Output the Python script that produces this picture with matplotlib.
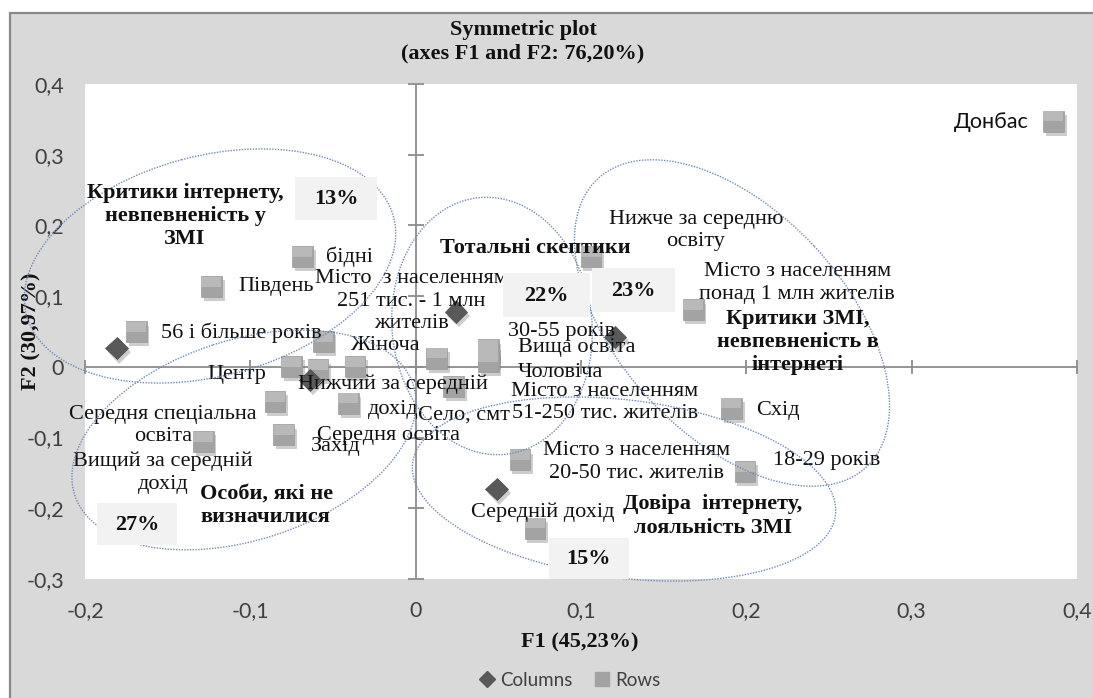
import matplotlib
matplotlib.use("Agg")
import matplotlib.pyplot as plt
from matplotlib.patches import Ellipse, Rectangle
from matplotlib.lines import Line2D
import matplotlib.patheffects as pe

SERIF = ["Liberation Serif", "DejaVu Serif"]
SANS = ["Lato", "Open Sans", "DejaVu Sans"]
plt.rcParams["font.family"] = SANS

# ---------------- data ----------------
row_labels = [
    "Донбас", "бідні", "Південь", "56 і більше років",
    "Нижче за середню\nосвіту", "Місто з населенням\nпонад 1 млн жителів",
    "Схід", "18-29 років", "Місто з населенням\n20-50 тис. жителів",
    "Середній дохід", "Жіноча", "Центр", "Нижчий за середній\nдохід",
    "Місто з населенням\n51-250 тис. жителів",
    "Місто  з населенням\n251 тис. - 1 млн\nжителів",
    "Село, смт", "30-55 років", "Вища освіта", "Чоловіча",
    "Середня спеціальна\nосвіта", "Середня освіта", "Захід",
    "Вищий за середній\nдохід",
]
row_x = [0.3857, -0.0685, -0.1236, -0.169, 0.106, 0.1678, 0.191, 0.1992,
         0.0631, 0.0722, -0.0559, -0.0752, -0.0591, -0.0367, 0.0127,
         0.0228, 0.0439, 0.0439, 0.0439, -0.0851, -0.0408, -0.0797, -0.1285]
row_y = [0.347, 0.156, 0.1136, 0.0495, 0.156, 0.0806, -0.0584, -0.148,
         -0.1315, -0.228, 0.0358, 0.0004, -0.0042, 0.0004, 0.0123,
         -0.0279, 0.024, 0.0156, 0.0075, -0.049, -0.0513, -0.0962, -0.1057]

col_x = [-0.1809, -0.0639, 0.0244, 0.1205, 0.049]
col_y = [0.0264, -0.0184, 0.0782, 0.042, -0.173]

xticks = [-0.2, -0.1, 0.0, 0.1, 0.2, 0.3, 0.4]
yticks = [-0.3, -0.2, -0.1, 0.0, 0.1, 0.2, 0.3, 0.4]
xtick_labels = ["-0,2", "-0,1", "0", "0,1", "0,2", "0,3", "0,4"]
ytick_labels = ["-0,3", "-0,2", "-0,1", "0", "0,1", "0,2", "0,3", "0,4"]

title_lines = ["Symmetric plot", "(axes F1 and F2: 76,20%)"]
xlabel = "F1 (45,23%)"
ylabel = "F2 (30,97%)"

# label placement (offset in pixels from the point, horizontal alignment, line spacing)
label_style = [
    (-25, -1, "right", 1.25), (24, 0, "left", 1.25), (27, 0, "left", 1.25),
    (25, -1, "left", 1.25), (105, 26, "center", 1.25), (104, 27, "center", 1.25),
    (25, -2, "left", 1.25), (28, 11, "left", 1.25), (117, -2, "center", 1.25),
    (8, 16, "center", 1.25), (27, -4, "left", 1.25), (-25, -8, "right", 1.25),
    (75, -27, "center", 1.45), (250, -36, "center", 1.25),
    (-25, 57, "center", 1.25), (11, -28, "center", 1.25),
    (20, 18, "left", 1.25), (30, 8, "left", 1.25), (30, -11, "left", 1.25),
    (-112, -24, "center", 1.25), (40, -32, "center", 1.25),
    (27, -12, "left", 1.25), (-40, -31, "center", 1.25),
]

FS = 16

# ---------------- figure ----------------
W, H = 1093, 698
fig = plt.figure(figsize=(W / 100, H / 100), dpi=100)
fig.patch.set_facecolor("white")
fig.add_artist(Rectangle((10 / W, -0.02), 1.05, 1 - 13 / H + 0.02,
                         transform=fig.transFigure, facecolor="#d9d9d9",
                         edgecolor="#8a8a8a", lw=1.6, zorder=0))

ax = fig.add_axes([85 / W, 1 - 579 / H, 992 / W, 495 / H])
ax.set_facecolor("white")
ax.set_xlim(-0.2, 0.4)
ax.set_ylim(-0.3, 0.4)
for s in ax.spines.values():
    s.set_visible(False)
ax.set_xticks(xticks)
ax.set_xticklabels(xtick_labels)
ax.set_yticks(yticks)
ax.set_yticklabels(ytick_labels)
ax.tick_params(length=0, labelsize=15.5, colors="#404040")
ax.tick_params(axis="x", pad=16)
ax.tick_params(axis="y", pad=15)

axis_col = "#8c8c8c"
ax.axhline(0, color=axis_col, lw=1.3, zorder=1)
ax.axvline(0, color=axis_col, lw=1.3, zorder=1)
ax.plot(xticks, [0] * len(xticks), ls="none", marker="|", ms=10, mew=1.3,
        color=axis_col, clip_on=False, zorder=1)
ax.plot([0] * len(yticks), yticks, ls="none", marker="_", ms=11.5, mew=1.3,
        color=axis_col, clip_on=False, zorder=1)

shadow = [pe.SimplePatchShadow(offset=(2, -3), shadow_rgbFace="#707070", alpha=0.35),
          pe.Normal()]
ax.plot(row_x, row_y, ls="none", marker="s", ms=15, color="#a3a3a3",
        mec="#9a9a9a", mew=0.5, zorder=3, path_effects=shadow)
# lighter upper half to suggest the gradient fill of the squares
ax.plot(row_x, row_y, ls="none", marker="s", ms=15, color="#b9b9b9",
        fillstyle="top", mew=0, zorder=3.1)
ax.plot(col_x, col_y, ls="none", marker="D", ms=11.5, color="#595959",
        mec="#4a4a4a", mew=0.5, zorder=4, path_effects=shadow)

for lab, x, y, (dx, dy, ha, ls) in zip(row_labels, row_x, row_y, label_style):
    fam = SANS if lab == "Донбас" else SERIF
    fs = 15.5 if lab == "Донбас" else FS
    ax.annotate(lab, (x, y), xytext=(dx, dy), textcoords="offset pixels",
                ha=ha, va="center", fontsize=fs, family=fam, color="#111111",
                linespacing=ls, zorder=5, annotation_clip=False)

# ---------------- overlay: clusters ----------------
ov = fig.add_axes([0, 0, 1, 1])
ov.set_xlim(0, W)
ov.set_ylim(H, 0)
ov.axis("off")
ov.set_zorder(5)

ell_style = dict(fill=False, edgecolor="#6f8bb5", lw=1.0, linestyle=(0, (1, 1)))
ellipses = [
    ((210, 266), 380, 220, -15),
    ((244, 440), 356, 200, -18),
    ((492, 326), 200, 258, -6),
    ((732, 323), 394, 225, 47),
    ((624, 489), 426, 178, 7),
]
for c, w, h, a in ellipses:
    ov.add_patch(Ellipse(c, w, h, angle=a, **ell_style))

boxes = [
    ((295, 177), 82, 43, "13%"),
    ((503, 273), 87, 44, "22%"),
    ((592, 268), 83, 44, "23%"),
    ((97, 503), 80, 42, "27%"),
    ((549, 538), 80, 41, "15%"),
]
for (bx, by), bw, bh, t in boxes:
    ov.add_patch(Rectangle((bx, by), bw, bh, facecolor="#f2f2f2", edgecolor="none"))
    ov.text(bx + bw / 2, by + bh / 2 + 1, t, ha="center", va="center",
            fontsize=FS, fontweight="bold", family=SERIF, color="#111111")

clusters = [
    (185, 216, "Критики інтернету,\nневпевненість у\nЗМІ", "center"),
    (535, 248, "Тотальні скептики", "center"),
    (798, 342, "Критики ЗМІ,\nневпевненість в\nінтернеті", "center"),
    (713, 516, "Довіра  інтернету,\nлояльність ЗМІ", "center"),
    (200, 505, "Особи, які не\nвизначилися", "left"),
]
for x, y, t, ha in clusters:
    ov.text(x, y, t, ha=ha, va="center", multialignment=ha, fontsize=FS,
            fontweight="bold", family=SERIF, color="#111111", linespacing=1.22)

# ---------------- titles, labels, legend ----------------
fig.text(523 / W, 1 - 30 / H, title_lines[0], ha="center", va="center",
         fontsize=FS, fontweight="bold", family=SERIF, color="#111111")
fig.text(523 / W, 1 - 53 / H, title_lines[1], ha="center", va="center",
         fontsize=FS, fontweight="bold", family=SERIF, color="#111111")
fig.text(580 / W, 1 - 642 / H, xlabel, ha="center", va="center",
         fontsize=FS, fontweight="bold", family=SERIF, color="#111111")
fig.text(31 / W, 1 - 331 / H, ylabel, ha="center", va="center", rotation=90,
         fontsize=FS, fontweight="bold", family=SERIF, color="#111111")

handles = [
    Line2D([], [], ls="none", marker="D", ms=8, color="#595959"),
    Line2D([], [], ls="none", marker="s", ms=10, color="#a3a3a3"),
]
fig.legend(handles, ["Columns", "Rows"], loc="center",
           bbox_to_anchor=(570 / W, 1 - 680 / H), ncol=2, frameon=False,
           fontsize=13.5, handlelength=0.8, handletextpad=0.3,
           columnspacing=1.2, labelcolor="#404040")

fig.savefig("out.png", dpi=100, facecolor=fig.get_facecolor())
